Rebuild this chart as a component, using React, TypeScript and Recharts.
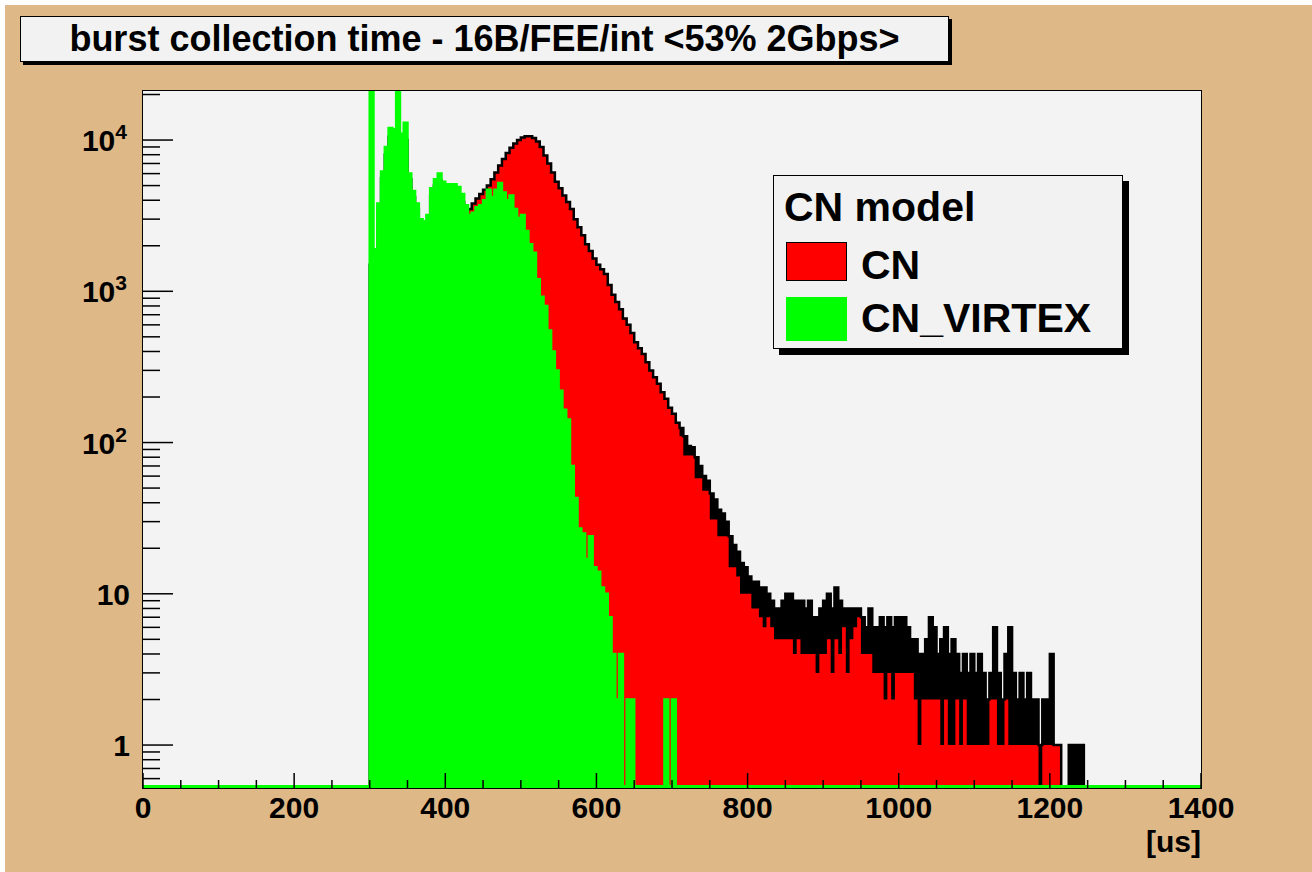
import { Area, ComposedChart, Legend, XAxis, YAxis } from "recharts"

const FONT = '"Liberation Sans", Arial, Helvetica, sans-serif'

// histogram binning, in us
const BIN_WIDTH = 5
const FIRST_BIN = 300
const TAIL_FIRST_BIN = 710

// CN: counts per bin starting at 300 us (upper edge of the fine-binned histogram)
const cnCounts = [
  1500, 1700, 3400, 5600, 8000, 10500, 10500, 10500, 10000, 10000,
  5500, 4200, 3500, 2700, 2600, 2800, 4300, 5000, 5400, 4800,
  4600, 4600, 4500, 4300, 3900, 3400, 3500, 3800, 4100, 4400,
  4700, 5000, 5500, 6100, 6800, 7500, 8200, 8900, 9500, 10000,
  10400, 10600, 10600, 10300, 9800, 9000, 7900, 7000, 6100, 5300,
  4800, 4300, 3900, 3500, 3000, 2650, 2350, 2050, 1850, 1650,
  1500, 1400, 1300, 1100, 950, 850, 760, 660, 600, 530,
  460, 420, 385, 340, 300, 270, 245, 215, 195, 170,
  155, 135, 125, 110, 95, 93, 80, 70, 60, 56,
  46, 42, 36, 34, 30, 24, 21, 19, 16, 15,
  13, 12, 12, 11, 11, 10, 9, 8, 8, 9,
  10, 10, 9, 9, 9, 8, 9, 7, 7, 8,
  9, 10, 8, 11, 9, 8, 8, 8, 8, 8,
  7, 6, 8, 6, 6, 7, 6, 7, 6, 7,
  7, 7, 6, 5, 5, 4, 4, 5, 7, 6,
  4, 5, 6, 4, 5, 4, 3, 4, 3, 4,
  3, 4, 3, 2, 3, 6, 3, 2, 4, 6,
  3, 2, 3, 2, 3, 2, 2, 1, 2, 2,
  4, 1, 1, 0, 0, 1, 1, 1, 1, 0,
]

// CN tail: lowest count inside each bin from 710 us on (the fine bins jump around)
const cnTailLow = [
  110, 82, 82, 82, 58, 58, 48, 48, 31, 31,
  24, 24, 24, 15, 15, 13, 10, 10, 10, 8,
  8, 7, 6, 7, 6, 5, 5, 5, 5, 5,
  4, 5, 4, 4, 4, 4, 3, 4, 4, 5,
  3, 5, 4, 6, 3, 5, 6, 7, 4, 4,
  4, 3, 3, 3, 2, 3, 2, 3, 3, 3,
  3, 3, 2, 1, 2, 2, 2, 2, 2, 1,
  2, 1, 1, 2, 1, 2, 1, 1, 1, 1,
  1, 1, 2, 2, 1, 1, 2, 1, 1, 1,
  1, 1, 1, 1, 1, 0, 1, 1, 1, 1,
  1, 0, 0, 0, 0, 0, 0, 0,
]

// CN_VIRTEX: counts per bin starting at 300 us
const virtexCounts = [
  22000, 1900, 3800, 6200, 9000, 12000, 11800, 22000, 11000, 13000,
  6000, 4600, 3800, 3000, 2900, 3200, 4800, 5500, 6000, 5300,
  5100, 5100, 5100, 4900, 4400, 3700, 3200, 3300, 3600, 3700,
  4000, 4700, 4200, 4700, 5200, 4500, 4000, 4300, 3500, 3050,
  3200, 2500, 2050, 1800, 1200, 920, 800, 550, 400, 300,
  220, 165, 142, 70, 43, 27, 25, 17, 24, 15,
  14, 11, 10, 7, 4, 2, 4, 0, 2, 2,
  0, 0, 0, 0, 0, 0, 0, 0, 2, 0,
  2,
]

const xMajorTicks = [0, 200, 400, 600, 800, 1000, 1200, 1400]
const xMinorTicks = [
  50, 100, 150, 250, 300, 350, 450, 500, 550, 650, 700, 750, 850, 900, 950,
  1050, 1100, 1150, 1250, 1300, 1350,
]
const yMajorTicks = [1, 10, 100, 1000, 10000]
const yMinorTicks = [
  0.6, 0.7, 0.8, 0.9, 2, 3, 4, 5, 6, 7, 8, 9, 20, 30, 40, 50, 60, 70, 80, 90,
  200, 300, 400, 500, 600, 700, 800, 900, 2000, 3000, 4000, 5000, 6000, 7000,
  8000, 9000, 20000,
]

const Y_MIN = 0.52
const Y_MAX = 21100
const X_MAX = 1400
// empty bins are drawn just above the bottom of the frame so their outline shows
const FLOOR = 0.535

const atFloor = (v: number) => (v > 0 ? v : FLOOR)

const rows: { t: number; cn: number; cnBand: [number, number]; virtex: number }[] = []
for (let t = 0; t <= X_MAX; t += BIN_WIDTH) {
  const i = (t - FIRST_BIN) / BIN_WIDTH
  const j = (t - TAIL_FIRST_BIN) / BIN_WIDTH
  const cn = cnCounts[i] ?? 0
  const low = j >= 0 ? cnTailLow[j] ?? 0 : cn
  rows.push({
    t,
    cn: atFloor(cn),
    cnBand: [atFloor(low), atFloor(cn)],
    virtex: atFloor(virtexCounts[i] ?? 0),
  })
}

const xTicks = [...xMajorTicks, ...xMinorTicks].sort((a, b) => a - b)
const yTicks = [...yMajorTicks, ...yMinorTicks].sort((a, b) => a - b)

const textStyle = { fontFamily: FONT, fontWeight: "bold" as const, fill: "#000" }

// ticks point into the frame, ROOT style; only decades get a label
function DecadeTick({ x, y, payload }: any) {
  const v = payload.value as number
  const major = yMajorTicks.includes(v)
  const exp = Math.round(Math.log10(v))
  return (
    <g>
      <line x1={x} y1={y} x2={x + (major ? 30 : 17)} y2={y} stroke="#000" strokeWidth={1.5} />
      {major && (
        <text x={x - (exp >= 2 ? 16 : 13)} y={y} dy={11} textAnchor="end" fontSize={30} {...textStyle}>
          {exp >= 2 ? (
            <>
              <tspan>10</tspan>
              <tspan dy={-12} fontSize={21}>
                {exp}
              </tspan>
            </>
          ) : (
            String(v)
          )}
        </text>
      )}
    </g>
  )
}

function TimeTick({ x, y, payload }: any) {
  const v = payload.value as number
  const major = xMajorTicks.includes(v)
  return (
    <g>
      <line x1={x} y1={y} x2={x} y2={y - (major ? 15 : 8)} stroke="#000" strokeWidth={1.5} />
      {major && (
        <text x={x} y={y} dy={30} textAnchor="middle" fontSize={30} {...textStyle}>
          {v}
        </text>
      )}
    </g>
  )
}

function UnitLabel({ viewBox }: any) {
  if (!viewBox) return null
  return (
    <text x={viewBox.x + viewBox.width} y={viewBox.y + 64} textAnchor="end" fontSize={30} {...textStyle}>
      [us]
    </text>
  )
}

function LegendBox() {
  const label = {
    position: "absolute" as const,
    left: 87,
    fontFamily: FONT,
    fontWeight: "bold",
    fontSize: 41,
    lineHeight: "41px",
    color: "#000",
    whiteSpace: "nowrap" as const,
  }
  return (
    <div
      style={{
        position: "relative",
        width: 350,
        height: 174,
        boxSizing: "border-box",
        border: "1px solid #000",
        background: "#F2F2F2",
        boxShadow: "6px 6px 0 #000",
      }}
    >
      <div style={{ ...label, left: 10, top: 11 }}>CN model</div>
      <div
        style={{
          position: "absolute",
          left: 12,
          top: 66,
          width: 61,
          height: 39,
          boxSizing: "border-box",
          background: "#FF0000",
          border: "1.5px solid #000",
        }}
      />
      <div style={{ ...label, top: 69 }}>CN</div>
      <div
        style={{
          position: "absolute",
          left: 12,
          top: 121,
          width: 61,
          height: 44,
          background: "#00FF00",
        }}
      />
      <div style={{ ...label, top: 122 }}>CN_VIRTEX</div>
    </div>
  )
}

export default function App() {
  return (
    <div style={{ position: "absolute", left: 0, top: 0, width: 1312, height: 872, background: "#FFFFFF" }}>
      <div style={{ position: "absolute", left: 5, top: 5, right: 0, bottom: 0, background: "#DEB887" }} />
      <div
        style={{
          position: "absolute",
          left: 20,
          top: 16,
          width: 929,
          height: 46,
          boxSizing: "border-box",
          border: "1px solid #000",
          background: "#F2F2F2",
          boxShadow: "3px 3px 0 #000",
          fontFamily: FONT,
          fontWeight: "bold",
          fontSize: 36,
          lineHeight: "44px",
          textAlign: "center",
          whiteSpace: "nowrap",
        }}
      >
        burst collection time - 16B/FEE/int &lt;53% 2Gbps&gt;
      </div>
      {/* plot frame */}
      <div
        style={{
          position: "absolute",
          left: 142,
          top: 90,
          width: 1060,
          height: 699,
          boxSizing: "border-box",
          border: "1px solid #000",
          background: "#F3F3F3",
        }}
      />
      <div style={{ position: "absolute", left: 0, top: 0 }}>
        <ComposedChart
          width={1312}
          height={872}
          data={rows}
          margin={{ top: 91, right: 111, bottom: 83, left: 142 }}
        >
          <XAxis
            dataKey="t"
            type="number"
            domain={[0, X_MAX]}
            allowDataOverflow
            ticks={xTicks}
            interval={0}
            height={1}
            axisLine={false}
            tickLine={false}
            tickSize={0}
            tickMargin={0}
            tick={<TimeTick />}
            label={<UnitLabel />}
          />
          <YAxis
            type="number"
            scale="log"
            domain={[Y_MIN, Y_MAX]}
            allowDataOverflow
            ticks={yTicks}
            interval={0}
            width={1}
            axisLine={false}
            tickLine={false}
            tickSize={0}
            tickMargin={0}
            tick={<DecadeTick />}
          />
          <Legend
            layout="vertical"
            align="center"
            verticalAlign="middle"
            wrapperStyle={{ left: 773, top: 175, width: 350, height: 174 }}
            content={() => <LegendBox />}
          />
          <Area
            type="stepAfter"
            dataKey="cn"
            baseValue={Y_MIN}
            fill="#FF0000"
            fillOpacity={1}
            stroke="#000000"
            strokeWidth={2.5}
            dot={false}
            activeDot={false}
            isAnimationActive={false}
          />
          <Area
            type="stepAfter"
            dataKey="cnBand"
            fill="#000000"
            fillOpacity={1}
            stroke="none"
            dot={false}
            activeDot={false}
            isAnimationActive={false}
          />
          <Area
            type="stepAfter"
            dataKey="virtex"
            baseValue={Y_MIN}
            fill="#00FF00"
            fillOpacity={1}
            stroke="#00FF00"
            strokeWidth={2.5}
            dot={false}
            activeDot={false}
            isAnimationActive={false}
          />
        </ComposedChart>
      </div>
    </div>
  )
}
